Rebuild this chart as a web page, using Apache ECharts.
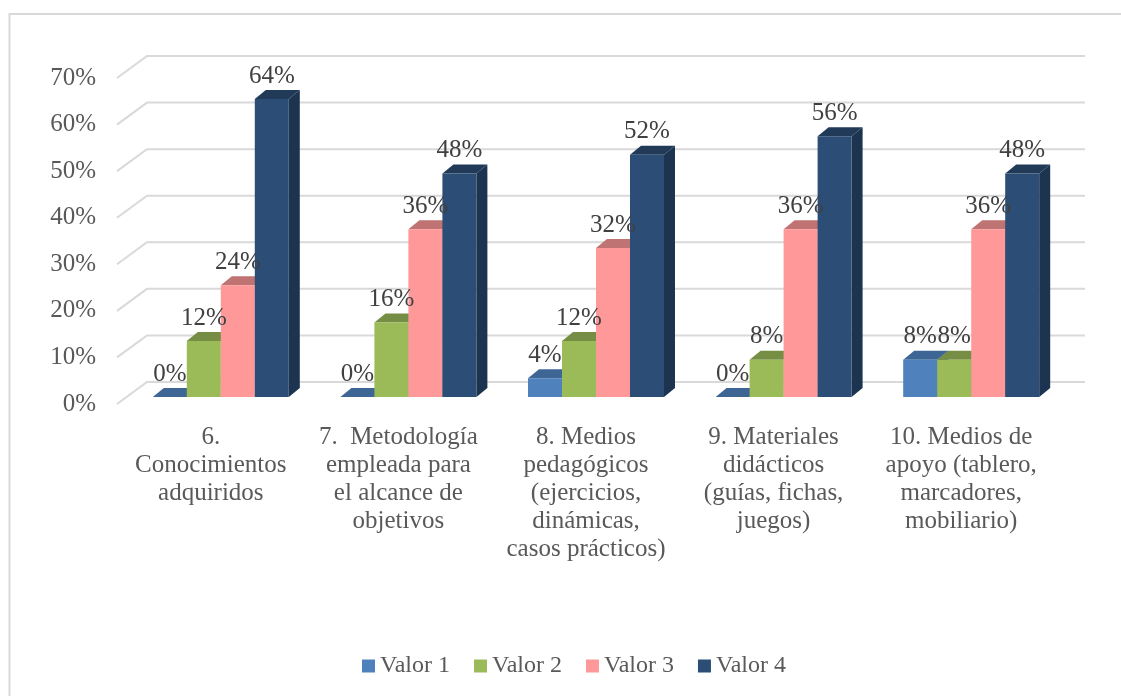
<!DOCTYPE html>
<html><head><meta charset="utf-8">
<script src="https://cdn.jsdelivr.net/npm/echarts@6/dist/echarts.min.js"></script>
<style>html,body{margin:0;padding:0;background:#fff}#c{width:1121px;height:696px}</style>
</head><body><div id="c"></div>
<script>
const categories = ["6.\nConocimientos\nadquiridos","7.  Metodología\nempleada para\nel alcance de\nobjetivos","8. Medios\npedagógicos\n(ejercicios,\ndinámicas,\ncasos prácticos)","9. Materiales\ndidácticos\n(guías, fichas,\njuegos)","10. Medios de\napoyo (tablero,\nmarcadores,\nmobiliario)"];
const valor1 = [0,0,4,0,8];
const valor2 = [12,16,12,8,8];
const valor3 = [24,36,32,36,36];
const valor4 = [64,48,52,56,48];
const ticks = [0,10,20,30,40,50,60,70];
const seriesNames = ["Valor 1","Valor 2","Valor 3","Valor 4"];
const seriesValues = [valor1,valor2,valor3,valor4];
const frontColors = ["#4F81BD","#9BBB59","#FF9999","#2C4D75"];
const topColors = ["#3E6695","#768E44","#BF7373","#203A58"];
const sideColors = ["#355780","#66793A","#A66464","#1D3450"];
const FONT = '"Liberation Serif", serif';
const WALL = [30,-22], BAR_SHIFT = [10,-7], BAR_DEPTH = [11,-9], BAR_FRAC = 34/187.6;

const barSeries = seriesNames.map((name,i)=>({
  name, type:'custom', coordinateSystem:'cartesian2d', z:3,
  itemStyle:{color:frontColors[i]},
  data: seriesValues[i].map((v,c)=>[c,v]),
  encode:{x:0,y:1},
  renderItem(params,api){
    const w = api.size([1,0])[0]*BAR_FRAC;
    const base = api.coord([api.value(0),0]);
    const top = api.coord([api.value(0),api.value(1)]);
    const l = base[0]+BAR_SHIFT[0]+(i-2)*w, r = l+w;
    const yb = base[1]+BAR_SHIFT[1], yt = top[1]+BAR_SHIFT[1];
    const [dx,dy] = BAR_DEPTH;
    return {type:'group',children:[
      {type:'polygon',shape:{points:[[r,yb],[r+dx,yb+dy],[r+dx,yt+dy],[r,yt]]},style:{fill:sideColors[i]}},
      {type:'polygon',shape:{points:[[l,yt],[l+dx,yt+dy],[r+dx,yt+dy],[r,yt]]},style:{fill:topColors[i]}},
      {type:'rect',shape:{x:l,y:yt,width:w,height:yb-yt},style:{fill:frontColors[i]}},
      {type:'text',z2:100,style:{x:(l+r)/2,y:yt-23,text:api.value(1)+'%',align:'center',verticalAlign:'middle',
        fill:'#404040',font:'25px '+FONT}}
    ]};
  }
}));

const chart = echarts.init(document.getElementById('c'),null,{renderer:'canvas'});
chart.setOption({
  animation:false,
  backgroundColor:'#fff',
  graphic:[{type:'rect',z:0,shape:{x:9.5,y:14,width:1300,height:900},style:{fill:'none',stroke:'#d9d9d9',lineWidth:2}}],
  grid:{left:117,width:938,top:78,height:326,containLabel:false},
  legend:{data:seriesNames,left:357,top:649,itemWidth:13,itemHeight:13,itemGap:24,icon:'rect',
    textStyle:{fontFamily:FONT,fontSize:24,color:'#595959'}},
  xAxis:{type:'category',data:categories,axisLine:{show:false},axisTick:{show:false},
    axisLabel:{interval:0,hideOverlap:false,margin:19,fontFamily:FONT,fontSize:25,lineHeight:28,color:'#595959'}},
  yAxis:{type:'value',min:0,max:70,interval:10,splitLine:{show:false},axisLine:{show:false},axisTick:{show:false},
    axisLabel:{formatter:'{value}%',margin:21,fontFamily:FONT,fontSize:25,color:'#595959',padding:[4,0,0,0]}},
  series:[{
    type:'custom',coordinateSystem:'cartesian2d',z:1,silent:true,
    data:ticks.map(t=>[0,t]),encode:{x:0,y:1},
    renderItem(params,api){
      const cs = params.coordSys, y = api.coord([0,api.value(1)])[1];
      return {type:'polyline',shape:{points:[[cs.x,y],[cs.x+WALL[0],y+WALL[1]],[cs.x+cs.width+WALL[0],y+WALL[1]]]},
        style:{stroke:'#d9d9d9',lineWidth:2,fill:'none'}};
    }
  }].concat(barSeries)
});
</script></body></html>
